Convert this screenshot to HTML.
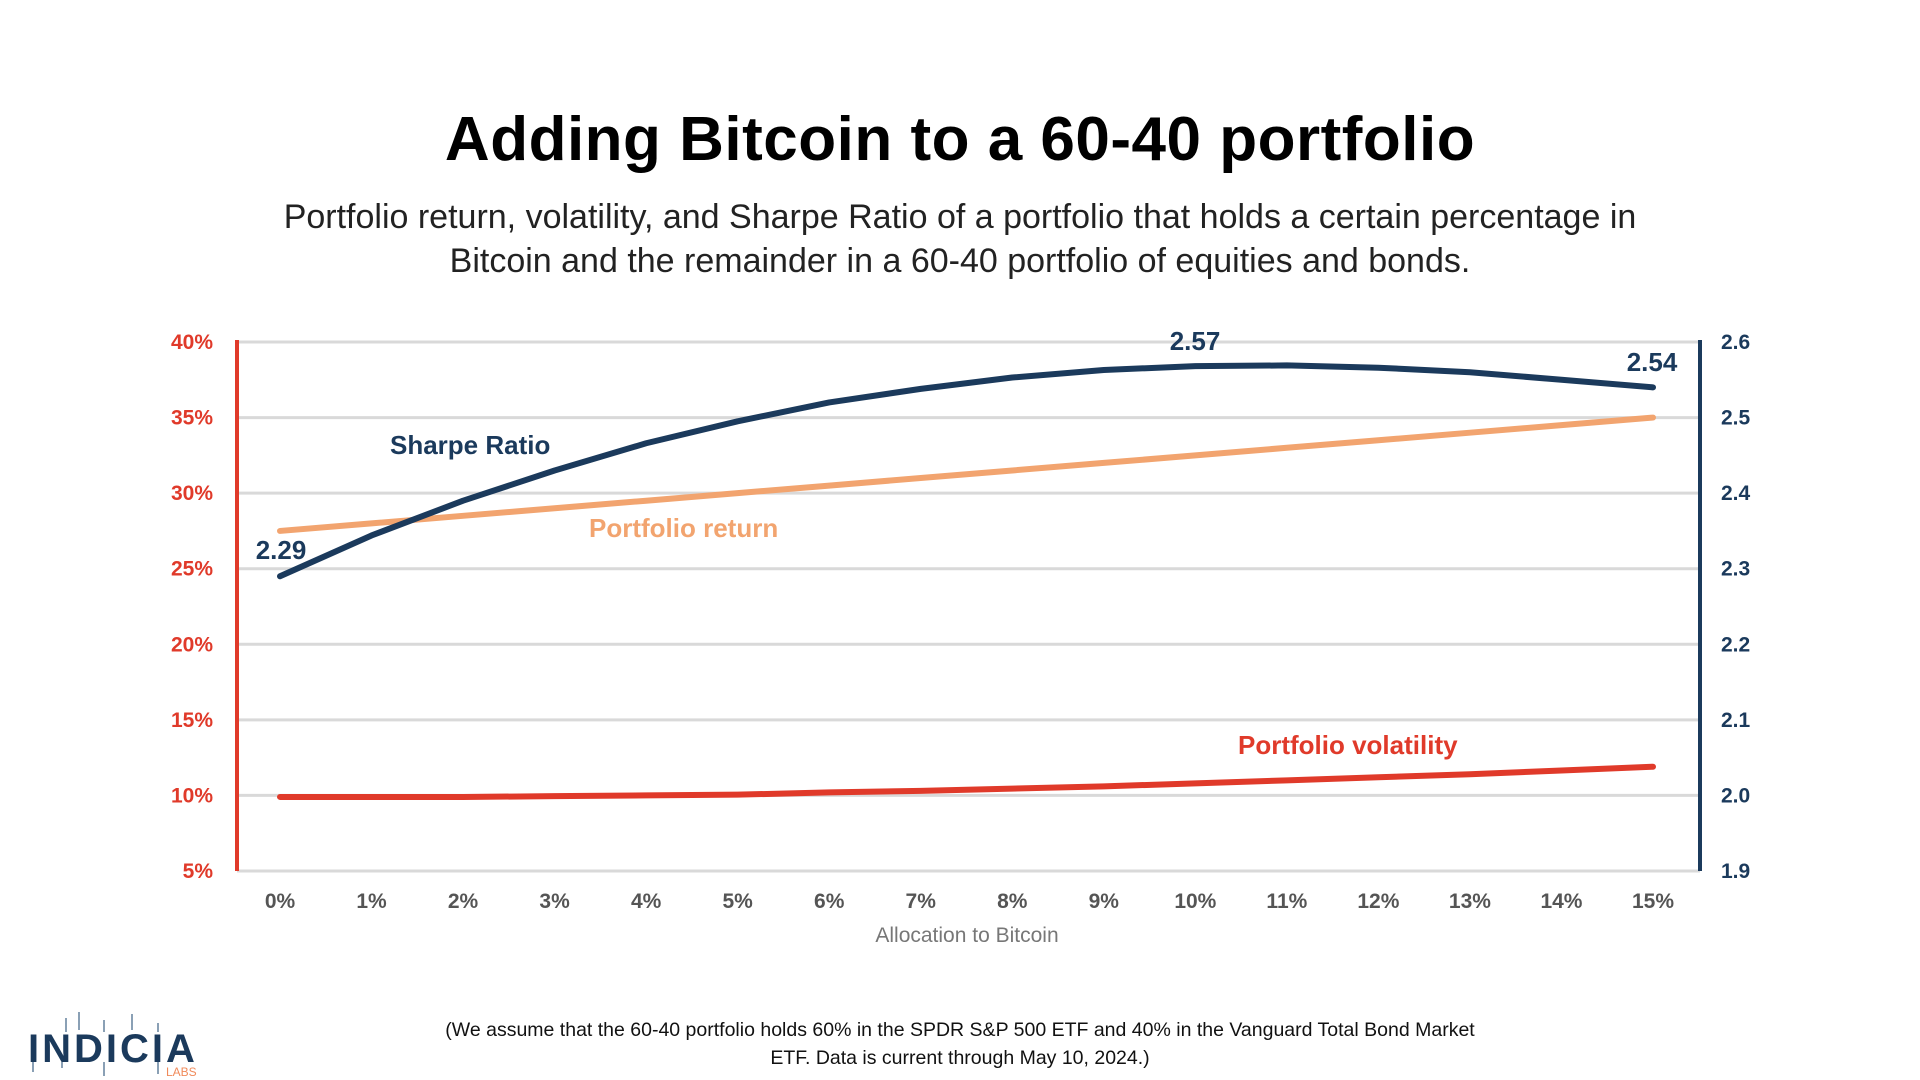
<!DOCTYPE html>
<html><head><meta charset="utf-8">
<style>
html,body{margin:0;padding:0;background:#fff;}
body{width:1920px;height:1080px;overflow:hidden;position:relative;font-family:"Liberation Sans","DejaVu Sans",sans-serif;}
#title{position:absolute;left:0;width:1920px;top:104px;text-align:center;font-size:62px;font-weight:bold;color:#000;margin:0;letter-spacing:0.5px;}
#subtitle{position:absolute;left:240px;width:1440px;top:195px;text-align:center;font-size:34px;line-height:44px;color:#222;}
#foot{position:absolute;left:430px;width:1060px;top:1016px;text-align:center;font-size:19.5px;line-height:28px;color:#111;}
#logo{position:absolute;left:28px;top:1010px;width:180px;height:70px;}
</style></head><body>
<h1 id="title">Adding Bitcoin to a 60-40 portfolio</h1>
<div id="subtitle">Portfolio return, volatility, and Sharpe Ratio of a portfolio that holds a certain percentage in Bitcoin and the remainder in a 60-40 portfolio of equities and bonds.</div>
<svg id="chart" width="1920" height="1000" style="position:absolute;left:0;top:0"></svg>
<div id="foot">(We assume that the 60-40 portfolio holds 60% in the SPDR S&amp;P 500 ETF and 40% in the Vanguard Total Bond Market ETF. Data is current through May 10, 2024.)</div>
<svg id="logo" viewBox="0 0 180 70">
 <g stroke="#8aa0b5" stroke-width="2">
  <line x1="38" y1="8" x2="38" y2="22"/><line x1="51" y1="2" x2="51" y2="20"/><line x1="76" y1="10" x2="76" y2="22"/><line x1="104" y1="4" x2="104" y2="20"/><line x1="130" y1="13" x2="130" y2="22"/>
  <line x1="5" y1="52" x2="5" y2="62"/><line x1="34" y1="52" x2="34" y2="58"/><line x1="76" y1="52" x2="76" y2="66"/><line x1="130" y1="52" x2="130" y2="64"/>
 </g>
 <text x="0" y="52" font-size="40" font-weight="bold" fill="#1b3a5c" font-family="Liberation Sans, sans-serif" letter-spacing="3">INDICIA</text>
 <text x="138" y="66" font-size="12" fill="#f08a5a" font-family="Liberation Sans, sans-serif">LABS</text>
</svg>
<script>
const categories=["0%","1%","2%","3%","4%","5%","6%","7%","8%","9%","10%","11%","12%","13%","14%","15%"];
const sharpe=[2.29,2.344,2.39,2.43,2.466,2.495,2.52,2.538,2.553,2.563,2.568,2.569,2.566,2.56,2.55,2.54];
const ret=[27.5,28,28.5,29,29.5,30,30.5,31,31.5,32,32.5,33,33.5,34,34.5,35];
const vol=[9.9,9.9,9.9,9.95,10,10.05,10.2,10.3,10.45,10.6,10.8,11,11.2,11.4,11.65,11.9];
const leftTicks=[5,10,15,20,25,30,35,40];
const rightTicks=[1.9,2.0,2.1,2.2,2.3,2.4,2.5,2.6];
const NS="http://www.w3.org/2000/svg";
const svg=document.getElementById('chart');
const X0=280,X1=1653,YT=342,YB=871,AL=237,AR=1700;
const x=i=>X0+(X1-X0)*i/(categories.length-1);
const yL=v=>YB-(v-5)/35*(YB-YT);
const yR=v=>YB-(v-1.9)/0.7*(YB-YT);
function mk(tag,attrs,parent){const e=document.createElementNS(NS,tag);for(const k in attrs)e.setAttribute(k,attrs[k]);(parent||svg).appendChild(e);return e;}
leftTicks.forEach(t=>{
 const g=mk('line',{x1:AL,x2:AR,y1:yL(t),y2:yL(t),stroke:'#d9d9d9','stroke-width':3});
 
 
 const l=mk('text',{x:213,y:yL(t)+7,'text-anchor':'end','font-size':21,'font-weight':'bold',fill:'#e03a2a'});
 l.textContent=t+'%';
 
 
});
rightTicks.forEach(t=>{
 const l=mk('text',{x:1721,y:yR(t)+7,'font-size':21,'font-weight':'bold',fill:'#1b3a5c'});
 l.textContent=t.toFixed(1);
 
 
});
categories.forEach((c,i)=>{
 const l=mk('text',{x:x(i),y:908,'text-anchor':'middle','font-size':21,'font-weight':'bold',fill:'#555'});
 l.textContent=c;
 
 
});
const la=mk('line',{x1:AL,x2:AL,y1:YT-2,y2:YB,stroke:'#e03a2a','stroke-width':4});


const ra=mk('line',{x1:AR,x2:AR,y1:YT-2,y2:YB,stroke:'#1b3a5c','stroke-width':4});


function line(data,yf,color,name){
 let d='';data.forEach((v,i)=>{d+=(i?'L':'M')+x(i)+' '+yf(v)+' ';});
 const p=mk('path',{d:d,fill:'none',stroke:color,'stroke-width':6,'stroke-linecap':'round','stroke-linejoin':'round'});
 
 
}
line(vol,yL,'#e03a2a','volatility-line');
line(ret,yL,'#f2a46f','return-line');
line(sharpe,yR,'#1b3a5c','sharpe-ratio-line');
function txt(s,xx,yy,color,size,name,anchor){
 const t=mk('text',{x:xx,y:yy,'font-size':size,'font-weight':'bold',fill:color,'text-anchor':anchor||'start'});
 t.textContent=s;
 
 
}
txt('Sharpe Ratio',390,454,'#1b3a5c',26,'sharpe-ratio-label');
txt('Portfolio return',589,537,'#f2a46f',26,'return-label');
txt('Portfolio volatility',1238,754,'#e03a2a',26,'volatility-label');
txt('2.29',281,559,'#1b3a5c',26,'sharpe-start-value','middle');
txt('2.57',1195,350,'#1b3a5c',26,'sharpe-peak-value','middle');
txt('2.54',1652,371,'#1b3a5c',26,'sharpe-end-value','middle');
const at=mk('text',{x:967,y:942,'text-anchor':'middle','font-size':21,fill:'#777'});
at.textContent='Allocation to Bitcoin';


</script>
</body></html>
